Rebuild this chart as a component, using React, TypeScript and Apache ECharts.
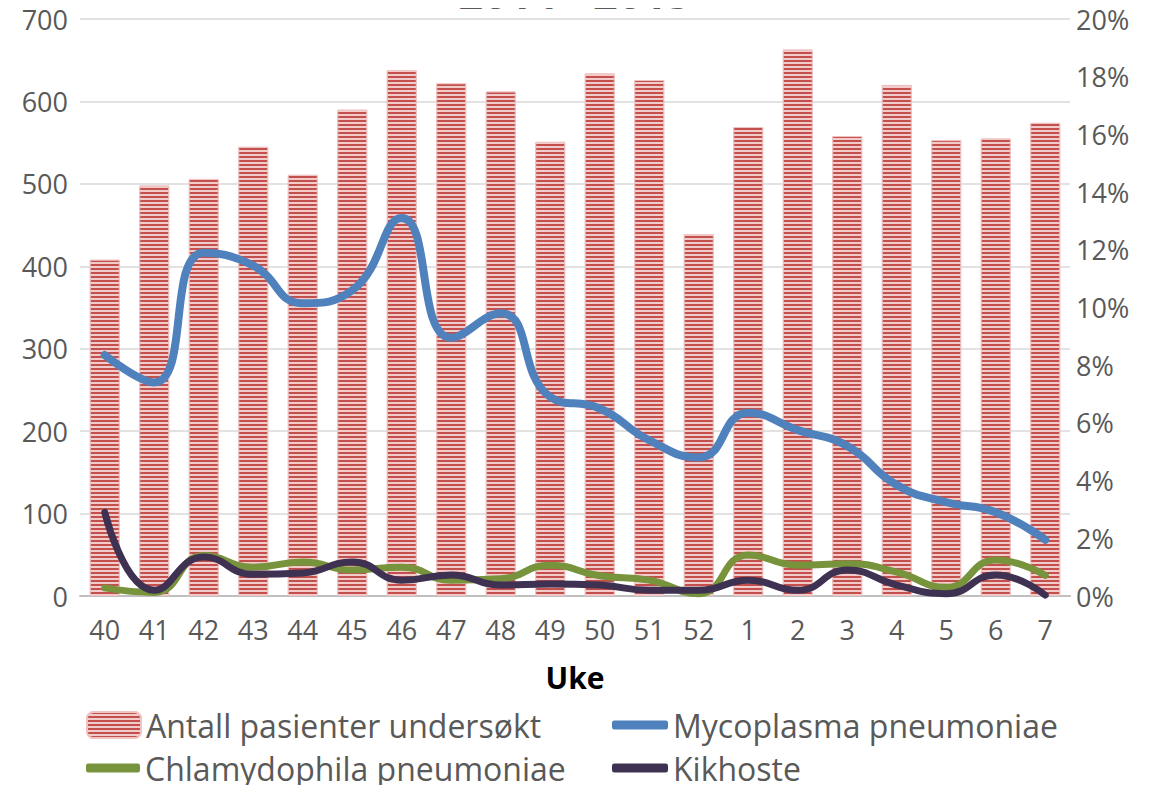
import React, { useEffect, useRef } from "react";
import * as echarts from "echarts";

const weeks = ["40", "41", "42", "43", "44", "45", "46", "47", "48", "49", "50", "51", "52", "1", "2", "3", "4", "5", "6", "7"];
const patients = [408, 498, 506, 545, 511, 590, 638, 622, 612, 551, 634, 626, 439, 569, 663, 558, 620, 553, 555, 574];
const mycoplasma = [8.35, 7.4, 11.9, 11.45, 10.15, 10.6, 13.1, 8.95, 9.8, 6.9, 6.5, 5.4, 4.8, 6.35, 5.75, 5.2, 3.85, 3.25, 2.9, 1.95];
const chlamydophila = [0.28, 0.12, 1.4, 1.0, 1.18, 0.9, 1.0, 0.55, 0.6, 1.07, 0.7, 0.55, 0.08, 1.42, 1.07, 1.12, 0.83, 0.3, 1.25, 0.72];
const kikhoste = [2.9, 0.2, 1.35, 0.75, 0.8, 1.18, 0.55, 0.73, 0.38, 0.42, 0.38, 0.2, 0.2, 0.55, 0.2, 0.9, 0.38, 0.08, 0.73, 0.03];
const leftTicks = { min: 0, max: 700, interval: 100 };
const rightTicks = { min: 0, max: 20, interval: 2 };
const titleText = "2014 - 2015";

const FONT = "'Open Sans', sans-serif";
const GRAY = "#595959";

export default function App() {
  const ref = useRef<HTMLDivElement>(null);
  useEffect(() => {
    if (!ref.current) return;
    const chart = echarts.init(ref.current, undefined, { renderer: "svg" });
    const legendBase = {
      orient: "horizontal",
      padding: 0,
      itemGap: 0,
      textStyle: { fontFamily: FONT, fontSize: 32, color: GRAY },
    };
    chart.setOption({
      animation: false,
      backgroundColor: "#ffffff",
      textStyle: { fontFamily: FONT },
      grid: { left: 80, right: 85, top: 19, bottom: 197, containLabel: false },
      graphic: [
        {
          type: "text",
          x: 575,
          y: 14,
          style: {
            text: titleText,
            fontFamily: FONT,
            fontSize: 43,
            fontWeight: "bold",
            fill: GRAY,
            align: "center",
            verticalAlign: "bottom",
          },
        },
      ],
      legend: [
        { ...legendBase, data: ["Antall pasienter undersøkt"], left: 86, top: 709, itemWidth: 54, itemHeight: 26 },
        { ...legendBase, data: ["Mycoplasma pneumoniae"], left: 612, top: 709, icon: "roundRect", itemWidth: 56, itemHeight: 9 },
        { ...legendBase, data: ["Chlamydophila pneumoniae"], left: 86, top: 752, icon: "roundRect", itemWidth: 54, itemHeight: 9 },
        { ...legendBase, data: ["Kikhoste"], left: 612, top: 752, icon: "roundRect", itemWidth: 56, itemHeight: 9 },
      ],
      xAxis: {
        type: "category",
        data: weeks,
        name: "Uke",
        nameLocation: "middle",
        nameGap: 66,
        nameTextStyle: { fontFamily: FONT, fontSize: 30, fontWeight: "bold", color: "#000000" },
        axisLine: { show: true, lineStyle: { color: "#bfbfbf", width: 2 } },
        axisTick: { show: false },
        axisLabel: { fontFamily: FONT, fontSize: 27, color: GRAY, margin: 20 },
      },
      yAxis: [
        {
          type: "value",
          ...leftTicks,
          axisLine: { show: false },
          axisTick: { show: false },
          splitLine: { show: true, lineStyle: { color: "#d9d9d9", width: 1.5 } },
          axisLabel: { fontFamily: FONT, fontSize: 27, color: GRAY, margin: 12 },
        },
        {
          type: "value",
          ...rightTicks,
          position: "right",
          axisLine: { show: false },
          axisTick: { show: false },
          splitLine: { show: false },
          axisLabel: { fontFamily: FONT, fontSize: 27, color: GRAY, margin: 6, formatter: "{value}%" },
        },
      ],
      series: [
        {
          name: "Antall pasienter undersøkt",
          type: "bar",
          data: patients,
          barWidth: 30,
          itemStyle: {
            color: "#f2cccb",
            borderColor: "#efc4c3",
            borderWidth: 1,
            decal: {
              symbol: "rect",
              symbolSize: 1,
              dashArrayX: [1, 0],
              dashArrayY: [2, 2],
              rotation: 0,
              color: "#c4504d",
            },
          },
        },
        {
          name: "Mycoplasma pneumoniae",
          type: "line",
          yAxisIndex: 1,
          data: mycoplasma,
          smooth: 0.5,
          showSymbol: false,
          symbol: "none",
          lineStyle: { color: "#4f81bd", width: 8, cap: "round" },
          itemStyle: { color: "#4f81bd" },
        },
        {
          name: "Chlamydophila pneumoniae",
          type: "line",
          yAxisIndex: 1,
          data: chlamydophila,
          smooth: 0.5,
          showSymbol: false,
          symbol: "none",
          lineStyle: { color: "#77933c", width: 7, cap: "round" },
          itemStyle: { color: "#77933c" },
        },
        {
          name: "Kikhoste",
          type: "line",
          yAxisIndex: 1,
          data: kikhoste,
          smooth: 0.5,
          showSymbol: false,
          symbol: "none",
          lineStyle: { color: "#3f3151", width: 7, cap: "round" },
          itemStyle: { color: "#3f3151" },
        },
      ],
    });
    return () => chart.dispose();
  }, []);
  return <div ref={ref} style={{ width: 1155, height: 793, margin: -8 }} />;
}
